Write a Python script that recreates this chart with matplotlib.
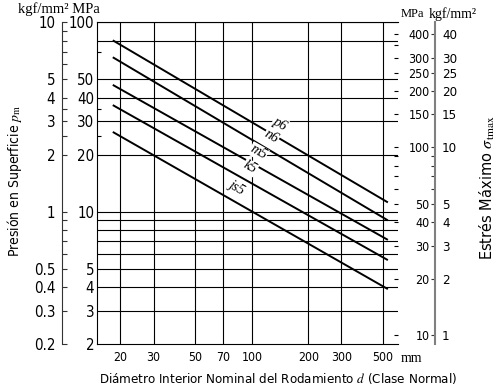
import matplotlib
matplotlib.use("Agg")
import matplotlib.pyplot as plt
import numpy as np
from matplotlib import font_manager
from matplotlib.ticker import FixedLocator, NullFormatter, NullLocator

# bearing bore range covered by each fit line (mm)
D_RANGE = [18.2, 530]
FITS = ["p6", "n6", "m5", "k5", "js5"]
P_START = [80.5, 65.5, 46.8, 36.6, 26.4]   # MPa at d = 18.2
P_END = [11.2, 9.0, 7.1, 5.55, 3.9]        # MPa at d = 530
LABEL_D = [134, 121, 103, 93, 79]          # where the fit name sits

X_TICKS = [20, 30, 50, 70, 100, 200, 300, 500]
P_TICKS = [2, 3, 4, 5, 10, 20, 30, 40, 50, 100]
P_GRID = [3, 4, 5, 6, 7, 8, 9, 10, 20, 30, 40, 50, 80, 100]
P_MINOR = [25, 35, 70]
KGF_TICKS = [0.2, 0.3, 0.4, 0.5, 1, 2, 3, 4, 5, 10]
KGF_MINOR = [0.6, 0.7, 0.8, 0.9, 2.5, 3.5, 6, 7, 8, 9]
S_TICKS = [10, 20, 30, 40, 50, 100, 150, 200, 250, 300, 400]
S_MINOR = [60, 70, 80, 90]
S_EDGE = [10, 20, 30, 40, 50, 60, 70, 80, 90, 100, 150, 200, 250, 300, 350, 400]
S_LIM = [8.96, 463]

SERIF = ["Liberation Serif", "DejaVu Serif"]
plt.rcParams["mathtext.fontset"] = "stix"

# narrow sans if there is one, otherwise plain DejaVu at a smaller size
_cond = font_manager.FontProperties(family="DejaVu Sans", stretch="condensed")
_path = font_manager.findfont(_cond, fallback_to_default=True)
if "Condensed" in _path:
    SANS_PROPS = dict(family="DejaVu Sans", stretch="condensed")
    K = 1.08
else:
    SANS_PROPS = dict(family="DejaVu Sans")
    K = 1.0


def fmt(v):
    return f"{v:g}"


def main() -> None:
    fig = plt.figure(figsize=(4.99, 3.91), dpi=100)
    ax = fig.add_axes([0.1944, 0.1202, 0.6032, 0.8223])
    ax.set_xscale("log")
    ax.set_yscale("log")
    ax.set_xlim(15, 600)
    ax.set_ylim(2, 100)

    # grid
    for v in X_TICKS:
        ax.axvline(v, color="black", lw=0.8, zorder=1)
    for v in P_GRID:
        ax.axhline(v, color="black", lw=0.8, zorder=1)

    # fit lines
    for name, p0, p1, dl in zip(FITS, P_START, P_END, LABEL_D):
        ax.plot(D_RANGE, [p0, p1], color="black", lw=1.4, zorder=3,
                solid_capstyle="butt")
        k = np.log(p1 / p0) / np.log(D_RANGE[1] / D_RANGE[0])
        pl = p0 * (dl / D_RANGE[0]) ** k
        a = ax.transData.transform([(D_RANGE[0], p0), (D_RANGE[1], p1)])
        ang = np.degrees(np.arctan2(a[1, 1] - a[0, 1], a[1, 0] - a[0, 0]))
        ax.annotate(name, (dl, pl), xytext=(3, 9), textcoords="offset points",
                    rotation=ang, rotation_mode="anchor", ha="center", va="center",
                    family=SERIF, style="italic", fontsize=10, zorder=4,
                    bbox=dict(boxstyle="square,pad=0.05", fc="white", ec="none"))

    ax.spines["right"].set_visible(False)
    ax.xaxis.set_major_locator(FixedLocator(X_TICKS))
    ax.xaxis.set_minor_locator(NullLocator())
    ax.set_xticklabels([fmt(v) for v in X_TICKS], fontsize=8.2 * K, **SANS_PROPS)
    ax.tick_params(axis="x", length=0, pad=5)
    ax.yaxis.set_major_locator(FixedLocator(P_TICKS))
    ax.yaxis.set_minor_locator(FixedLocator(P_MINOR))
    ax.yaxis.set_minor_formatter(NullFormatter())
    ax.set_yticklabels([fmt(v) for v in P_TICKS], fontsize=10 * K, **SANS_PROPS)
    ax.tick_params(axis="y", which="major", length=0, pad=2)
    ax.tick_params(axis="y", which="minor", length=3, direction="in", width=0.8)

    # outer left axis in kgf/mm2
    axk = ax.twinx()
    axk.set_yscale("log")
    axk.set_ylim(0.2, 10)
    for s in ["top", "bottom", "right"]:
        axk.spines[s].set_visible(False)
    axk.spines["left"].set_visible(True)
    axk.spines["left"].set_position(("axes", -0.116))
    axk.spines["left"].set_color("#333333")
    axk.yaxis.set_ticks_position("left")
    axk.yaxis.set_major_locator(FixedLocator(KGF_TICKS))
    axk.yaxis.set_minor_locator(FixedLocator(KGF_MINOR))
    axk.yaxis.set_minor_formatter(NullFormatter())
    axk.set_yticklabels([fmt(v) for v in KGF_TICKS], fontsize=10 * K, **SANS_PROPS)
    axk.tick_params(axis="y", which="both", direction="in", length=3.5, pad=5,
                    width=0.8, color="#333333")

    # right stress axis, MPa labels on the left of the spine
    axs = ax.twinx()
    axs.set_yscale("log")
    axs.set_ylim(*S_LIM)
    for s in ["top", "bottom", "right"]:
        axs.spines[s].set_visible(False)
    axs.spines["left"].set_visible(True)
    axs.spines["left"].set_position(("axes", 1.123))
    axs.spines["left"].set_color("#808080")
    axs.spines["left"].set_linewidth(1.5)
    axs.yaxis.set_ticks_position("left")
    axs.yaxis.set_major_locator(FixedLocator(S_TICKS))
    axs.yaxis.set_minor_locator(FixedLocator(S_MINOR))
    axs.yaxis.set_minor_formatter(NullFormatter())
    axs.set_yticklabels([fmt(v) for v in S_TICKS], fontsize=8.3 * K, **SANS_PROPS)
    axs.tick_params(axis="y", which="both", direction="out", length=3, pad=1,
                    width=0.8, color="#333333")

    # right stress axis, kgf/mm2 labels on the right
    axs2 = ax.twinx()
    axs2.set_yscale("log")
    axs2.set_ylim(S_LIM[0] / 10, S_LIM[1] / 10)
    for s in ["top", "bottom", "left", "right"]:
        axs2.spines[s].set_visible(False)
    axs2.spines["right"].set_position(("axes", 1.123))
    axs2.yaxis.set_major_locator(FixedLocator([v / 10 for v in S_TICKS]))
    axs2.yaxis.set_minor_locator(NullLocator())
    axs2.set_yticklabels([fmt(v / 10) for v in S_TICKS], fontsize=8.8 * K,
                         **SANS_PROPS)
    axs2.tick_params(axis="y", length=0, pad=5)

    # small stress ticks on the right edge of the plot
    axe = ax.twinx()
    axe.set_yscale("log")
    axe.set_ylim(*S_LIM)
    for s in ["top", "bottom", "left", "right"]:
        axe.spines[s].set_visible(False)
    axe.yaxis.set_major_locator(FixedLocator(S_EDGE))
    axe.yaxis.set_minor_locator(NullLocator())
    axe.yaxis.set_major_formatter(NullFormatter())
    axe.tick_params(axis="y", direction="in", length=3, width=0.8)

    # units and labels
    fig.text(0.036, 0.977, "kgf/mm² MPa", family=SERIF, fontsize=10.5, va="center")
    fig.text(0.802, 0.964, "MPa", family=SERIF, fontsize=9, va="center")
    fig.text(0.860, 0.964, "kgf/mm²", family=SERIF, fontsize=10, va="center")
    ax.text(1.008, -0.045, "mm", transform=ax.transAxes, family=SERIF,
            fontsize=10, va="center", ha="left")

    fig.text(0.03, 0.537, r"Presión en Superficie $p_{\mathrm{m}}$", rotation=90,
             fontsize=9.3 * K, ha="center", va="center", **SANS_PROPS)
    fig.text(0.976, 0.52, r"Estrés Máximo $\sigma_{\mathrm{tmax}}$", rotation=90,
             fontsize=10.8 * K, ha="center", va="center", **SANS_PROPS)
    fig.text(0.557, 0.033,
             r"Diámetro Interior Nominal del Rodamiento $d$ (Clase Normal)",
             fontsize=8.8 * K, ha="center", va="center", **SANS_PROPS)

    fig.savefig("out.png", dpi=100)


if __name__ == "__main__":
    main()
